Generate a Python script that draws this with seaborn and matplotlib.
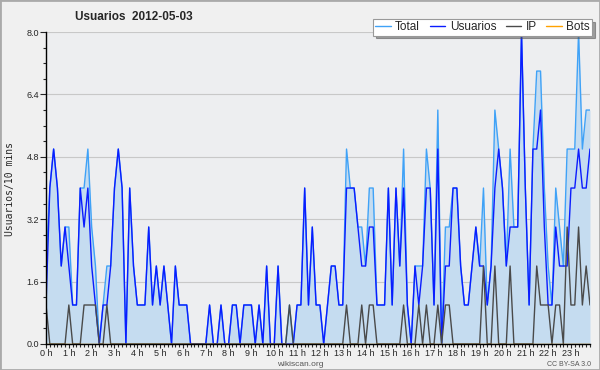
import numpy as np
import pandas as pd
import matplotlib
matplotlib.use("Agg")
import matplotlib.pyplot as plt
from matplotlib.patches import Rectangle
from matplotlib.ticker import MultipleLocator, FormatStrFormatter
import seaborn as sns

# editions per 10-minute slot, 2012-05-03 (144 slots, 00:00 .. 23:50)
usuarios = [1, 4, 5, 4, 2, 3, 2, 1, 1, 4, 3, 4, 2, 1, 0, 1, 1, 2, 4, 5, 4, 0, 4, 2,
            1, 1, 1, 3, 1, 2, 1, 2, 1, 0, 2, 1, 1, 1, 0, 0, 0, 0, 0, 1, 0, 0, 1, 0,
            0, 1, 1, 0, 1, 1, 1, 0, 1, 0, 2, 0, 0, 2, 0, 0, 0, 0, 1, 1, 4, 1, 3, 1,
            1, 0, 1, 2, 2, 1, 1, 4, 4, 4, 3, 2, 2, 3, 3, 1, 1, 1, 4, 1, 4, 2, 4, 1,
            0, 2, 1, 2, 4, 4, 1, 5, 0, 2, 2, 4, 4, 2, 1, 1, 2, 3, 2, 2, 1, 2, 4, 5,
            4, 2, 3, 3, 3, 8, 4, 1, 5, 5, 6, 3, 1, 1, 3, 2, 2, 2, 4, 4, 5, 4, 4, 5]
ip = [1, 0, 0, 0, 0, 0, 1, 0, 0, 0, 1, 1, 1, 1, 0, 0, 1, 0, 0, 0, 0, 0, 0, 0,
      0, 0, 0, 0, 0, 0, 0, 0, 0, 0, 0, 0, 0, 0, 0, 0, 0, 0, 0, 0, 0, 0, 0, 0,
      0, 0, 0, 0, 0, 0, 0, 0, 0, 0, 0, 0, 0, 0, 0, 0, 1, 0, 0, 0, 0, 0, 0, 0,
      0, 0, 0, 0, 0, 0, 0, 1, 0, 0, 0, 1, 0, 1, 1, 0, 0, 0, 0, 0, 0, 0, 1, 0,
      0, 0, 1, 0, 1, 0, 0, 1, 0, 1, 1, 0, 0, 0, 0, 0, 0, 0, 0, 2, 0, 0, 2, 0,
      0, 0, 2, 0, 0, 0, 0, 0, 0, 2, 1, 1, 1, 0, 1, 1, 0, 3, 1, 1, 3, 1, 2, 1]
total = [2, 4, 5, 4, 2, 3, 3, 1, 1, 4, 4, 5, 3, 2, 0, 1, 2, 2, 4, 5, 4, 0, 4, 2,
         1, 1, 1, 3, 1, 2, 1, 2, 1, 0, 2, 1, 1, 1, 0, 0, 0, 0, 0, 1, 0, 0, 1, 0,
         0, 1, 1, 0, 1, 1, 1, 0, 1, 0, 2, 0, 0, 2, 0, 0, 1, 0, 1, 1, 4, 1, 3, 1,
         1, 0, 1, 2, 2, 1, 1, 5, 4, 4, 3, 3, 2, 4, 4, 1, 1, 1, 4, 1, 4, 2, 5, 1,
         0, 2, 2, 2, 5, 4, 1, 6, 0, 3, 3, 4, 4, 2, 1, 1, 2, 3, 2, 4, 1, 2, 6, 5,
         4, 2, 5, 3, 3, 8, 4, 1, 5, 7, 7, 4, 2, 1, 4, 3, 2, 5, 5, 5, 8, 5, 6, 6]
bots = [0, 0, 0, 0, 0, 0, 0, 0, 0, 0, 0, 0, 0, 0, 0, 0, 0, 0, 0, 0, 0, 0, 0, 0,
        0, 0, 0, 0, 0, 0, 0, 0, 0, 0, 0, 0, 0, 0, 0, 0, 0, 0, 0, 0, 0, 0, 0, 0,
        0, 0, 0, 0, 0, 0, 0, 0, 0, 0, 0, 0, 0, 0, 0, 0, 0, 0, 0, 0, 0, 0, 0, 0,
        0, 0, 0, 0, 0, 0, 0, 0, 0, 0, 0, 0, 0, 0, 0, 0, 0, 0, 0, 0, 0, 0, 0, 0,
        0, 0, 0, 0, 0, 0, 0, 0, 0, 0, 0, 0, 0, 0, 0, 0, 0, 0, 0, 0, 0, 0, 0, 0,
        0, 0, 0, 0, 0, 0, 0, 0, 0, 0, 0, 0, 0, 0, 0, 0, 0, 0, 0, 0, 0, 0, 0, 0]
hour_labels = ["0 h", "1 h", "2 h", "3 h", "4 h", "5 h", "6 h", "7 h", "8 h", "9 h",
               "10 h", "11 h", "12 h", "13 h", "14 h", "15 h", "16 h", "17 h",
               "18 h", "19 h", "20 h", "21 h", "22 h", "23 h"]

df = pd.DataFrame({"hora": np.arange(len(total)) / 6.0, "Total": total,
                   "Usuarios": usuarios, "IP": ip, "Bots": bots})

sns.set_style("ticks")
plt.rcParams["font.family"] = ["Liberation Sans", "DejaVu Sans"]

fig = plt.figure(figsize=(6, 3.7), dpi=100, facecolor="#f0f0f0")
ax = fig.add_axes([0.0767, 0.0703, 0.9066, 0.843])
ax.set_facecolor("#edeef0")

ax.fill_between(df["hora"], 0, df["Total"], color="#c5dcf0", lw=0, zorder=1)
sns.lineplot(data=df, x="hora", y="Total", ax=ax, color="#3fa2f7", lw=1, label="Total")
sns.lineplot(data=df, x="hora", y="Usuarios", ax=ax, color="#0a1cff", lw=1, label="Usuarios")
sns.lineplot(data=df, x="hora", y="IP", ax=ax, color="#4a4a4a", lw=1, label="IP")
sns.lineplot(data=df, x="hora", y="Bots", ax=ax, color="#ffa200", lw=1, label="Bots")

handles, labels = ax.get_legend_handles_labels()
ax.get_legend().remove()

ax.set_xlim(0, df["hora"].iloc[-1])
ax.set_ylim(0, 8)
ax.yaxis.set_major_locator(MultipleLocator(1.6))
ax.yaxis.set_minor_locator(MultipleLocator(0.4))
ax.yaxis.set_major_formatter(FormatStrFormatter("%.1f"))
ax.set_xticks(range(24))
ax.set_xticklabels(hour_labels)
ax.xaxis.set_minor_locator(MultipleLocator(1 / 6))
ax.tick_params(axis="y", which="major", length=4, width=0.8, labelsize=6.5, pad=1)
ax.tick_params(axis="y", which="minor", length=2.5, width=0.8)
ax.tick_params(axis="x", which="major", length=3, width=0.8, labelsize=6.5, pad=0.5)
ax.tick_params(axis="x", which="minor", length=2.5, width=0.8)
ax.grid(axis="y", which="major", color="#c8c8c8", lw=0.8)
ax.set_axisbelow(True)
for side in ["top", "right"]:
    ax.spines[side].set_visible(False)
for side in ["left", "bottom"]:
    ax.spines[side].set_color("black")
    ax.spines[side].set_linewidth(1)
ax.set_xlabel("")
ax.set_ylabel("")

fig.text(0.125, 1 - 17 / 370, "Usuarios  2012-05-03", fontsize=8.5, fontweight="bold",
         va="center", ha="left")
fig.text(0.017, 0.49, "Usuarios/10 mins", rotation=90, fontsize=7,
         family="DejaVu Sans Mono", va="center", ha="center")
fig.text(0.5, 1 - 364 / 370, "wikiscan.org", fontsize=6, color="#555555",
         ha="center", va="center")
fig.text(0.985, 1 - 364 / 370, "CC BY-SA 3.0", fontsize=5, color="#555555",
         ha="right", va="center")

leg = fig.legend(handles, labels, ncol=4, loc="upper right",
                 bbox_to_anchor=(0.997, 1 - 13 / 370), fontsize=8.5, frameon=True,
                 fancybox=False, shadow=True, edgecolor="#999999", framealpha=1,
                 handlelength=1.3, handletextpad=0.4, columnspacing=0.8,
                 borderpad=0.2)
leg.get_frame().set_linewidth(0.8)

fig.patches.append(Rectangle((0, 0), 1, 1, transform=fig.transFigure, fill=False,
                             edgecolor="#aaaaaa", lw=2))

fig.savefig("out.png", dpi=100, facecolor=fig.get_facecolor())
